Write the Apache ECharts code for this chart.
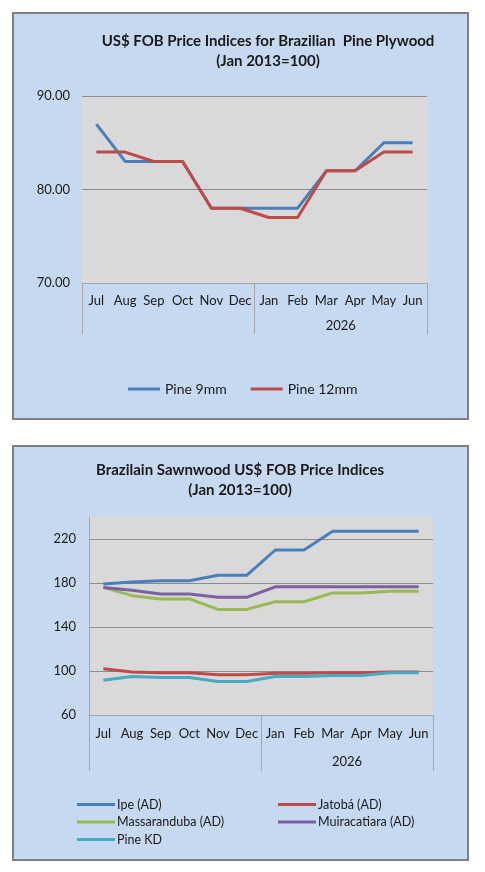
<!DOCTYPE html>
<html>
<head>
<meta charset="utf-8">
<script src="https://cdn.jsdelivr.net/npm/echarts@6/dist/echarts.min.js"></script>
<style>
  html, body { margin: 0; padding: 0; background: #fff; }
  .box {
    position: absolute;
    left: 12px;
    width: 457px;
    box-sizing: border-box;
    border: 2px solid #7f7f7f;
    background: #c6d9f1;
  }
  #plywood { top: 12px; height: 408px; }
  #sawnwood { top: 445px; height: 416px; }
</style>
</head>
<body>
<div id="plywood" class="box"></div>
<div id="sawnwood" class="box"></div>
<script>
// Data
var months = ['Jul', 'Aug', 'Sep', 'Oct', 'Nov', 'Dec', 'Jan', 'Feb', 'Mar', 'Apr', 'May', 'Jun'];
var years = ['', '2026'];

var pine9mm = [87, 83, 83, 83, 78, 78, 78, 78, 82, 82, 85, 85];
var pine12mm = [84, 84, 83, 83, 78, 78, 77, 77, 82, 82, 84, 84];

var ipe = [179, 181, 182, 182, 187, 187, 210, 210, 227, 227, 227, 227];
var jatoba = [102, 99, 98.5, 98.5, 96.5, 96.5, 98, 98, 98.5, 98.5, 99, 99];
var massaranduba = [176, 168.5, 165.5, 165.5, 156, 156, 163, 163, 171, 171, 172.5, 172.5];
var muiracatiara = [176, 173.5, 170, 170, 167, 167, 176.5, 176.5, 176.5, 176.5, 176.5, 176.5];
var pineKD = [91.5, 95, 94, 94, 90.5, 90.5, 95, 95, 96, 96, 98.5, 98.5];

var font = 'Lato, "Noto Sans", sans-serif';
var gridGray = '#8c8c8c';
var axisGray = '#a6a6a6';
var textColor = '#1a1a1a';

function titleOpt(text, x, top) {
  return {
    text: text,
    left: x,
    top: top,
    padding: 0,
    textAlign: 'center',
    textStyle: {
      fontFamily: font, fontSize: 15, fontWeight: 'bold',
      color: textColor, lineHeight: 20, align: 'center'
    }
  };
}

function monthAxis(labelMargin) {
  return {
    type: 'category',
    data: months,
    boundaryGap: true,
    axisLine: { show: true, lineStyle: { color: axisGray, width: 1 } },
    axisTick: { show: false },
    axisLabel: { margin: labelMargin, fontFamily: font, fontSize: 13, color: textColor, interval: 0 }
  };
}

function yearAxis(labelMargin, tickLen) {
  return {
    type: 'category',
    data: years,
    position: 'bottom',
    boundaryGap: true,
    axisLine: { show: false },
    axisTick: { show: true, interval: 0, length: tickLen, lineStyle: { color: axisGray, width: 1 } },
    axisLabel: { margin: labelMargin, fontFamily: font, fontSize: 13, color: textColor, interval: 0 }
  };
}

function lineSeries(name, data, color) {
  return {
    name: name,
    type: 'line',
    data: data,
    showSymbol: false,
    symbol: 'none',
    lineStyle: { width: 3, color: color },
    itemStyle: { color: color },
    animation: false
  };
}

// ---- Plywood chart ----
var chart1 = echarts.init(document.getElementById('plywood'), null, { renderer: 'canvas' });
chart1.setOption({
  animation: false,
  title: titleOpt('US$ FOB Price Indices for Brazilian  Pine Plywood\n(Jan 2013=100)', 254, 17),
  grid: {
    left: 68, top: 82, width: 345, height: 187,
    show: true, backgroundColor: '#d9d9d9', borderWidth: 0
  },
  legend: {
    left: 114, top: 367, padding: 0,
    icon: 'rect', itemWidth: 32, itemHeight: 3, itemGap: 24,
    textStyle: { fontFamily: font, fontSize: 14, color: textColor, lineHeight: 16 },
    data: ['Pine 9mm', 'Pine 12mm']
  },
  xAxis: [monthAxis(11), yearAxis(36, 51)],
  yAxis: {
    type: 'value',
    min: 70, max: 90, interval: 10,
    axisLine: { show: false },
    axisTick: { show: false },
    axisLabel: {
      margin: 12, fontFamily: font, fontSize: 13, color: textColor,
      formatter: function (v) { return v.toFixed(2); }
    },
    splitLine: { show: true, lineStyle: { color: gridGray, width: 1 } }
  },
  series: [
    lineSeries('Pine 9mm', pine9mm, '#4a7ebb'),
    lineSeries('Pine 12mm', pine12mm, '#be4b48')
  ]
});

// ---- Sawnwood chart ----
var chart2 = echarts.init(document.getElementById('sawnwood'), null, { renderer: 'canvas' });
var legendText = { fontFamily: font, fontSize: 12.5, color: textColor, lineHeight: 15, padding: [0, 0, 0, -3] };
chart2.setOption({
  animation: false,
  title: titleOpt('Brazilain Sawnwood US$ FOB Price Indices\n(Jan 2013=100)', 226, 13),
  grid: {
    left: 75, top: 70, width: 344, height: 198,
    show: true, backgroundColor: '#d9d9d9', borderWidth: 0
  },
  legend: [
    {
      orient: 'vertical', left: 63, top: 350, padding: 0,
      icon: 'rect', itemWidth: 38, itemHeight: 3, itemGap: 2.5,
      textStyle: legendText,
      data: ['Ipe (AD)', 'Massaranduba (AD)', 'Pine KD']
    },
    {
      orient: 'vertical', left: 264, top: 350, padding: 0,
      icon: 'rect', itemWidth: 38, itemHeight: 3, itemGap: 2.5,
      textStyle: legendText,
      data: ['Jatobá (AD)', 'Muiracatiara (AD)']
    }
  ],
  xAxis: [monthAxis(12), yearAxis(40, 56)],
  yAxis: {
    type: 'value',
    min: 60, max: 240, interval: 40,
    axisLine: { show: true, lineStyle: { color: axisGray, width: 1 } },
    axisTick: { show: false },
    axisLabel: {
      margin: 13, fontFamily: font, fontSize: 13, color: textColor,
      formatter: function (v) { return v === 240 ? '' : String(v); }
    },
    splitLine: { show: true, showMaxLine: false, lineStyle: { color: gridGray, width: 1 } }
  },
  series: [
    lineSeries('Ipe (AD)', ipe, '#4a7ebb'),
    lineSeries('Jatobá (AD)', jatoba, '#be4b48'),
    lineSeries('Massaranduba (AD)', massaranduba, '#98b954'),
    lineSeries('Muiracatiara (AD)', muiracatiara, '#7d60a0'),
    lineSeries('Pine KD', pineKD, '#46aac5')
  ]
});
</script>
</body>
</html>
